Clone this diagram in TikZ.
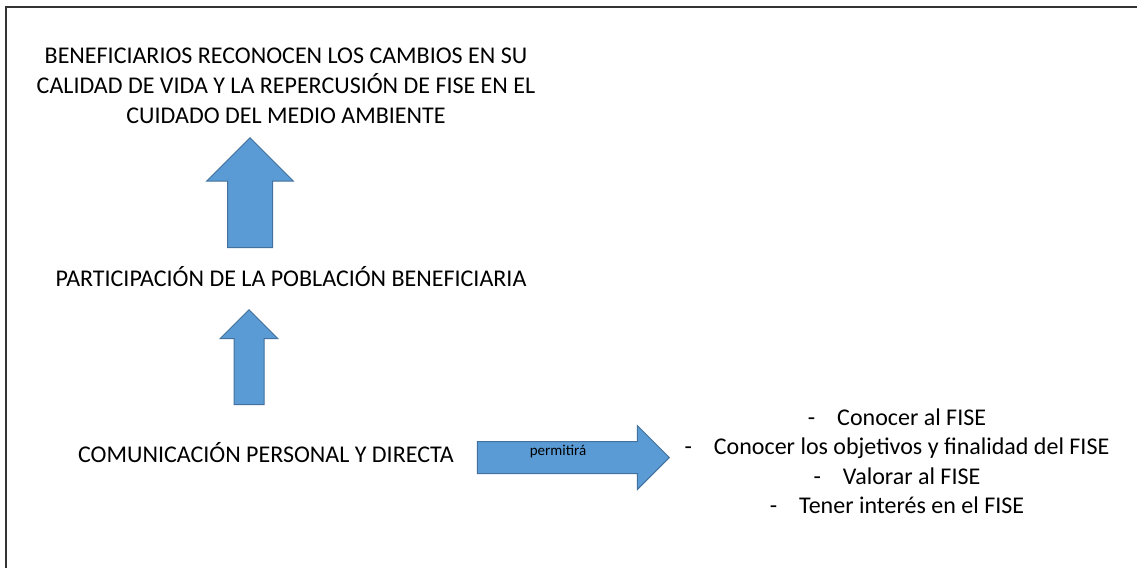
\documentclass[tikz,border=0pt]{standalone}
\usepackage{fontspec}
\setmainfont{Carlito}
\usepackage{tikz}
\usetikzlibrary{shapes.arrows}
\pgfdeclarelayer{edgelayer}
\pgfdeclarelayer{nodelayer}
\pgfsetlayers{edgelayer,nodelayer,main}
\definecolor{fiseblue}{RGB}{91,155,213}
\definecolor{fiseedge}{RGB}{65,113,156}
\tikzstyle{caption}=[align=center, inner sep=0pt, font=\fontsize{12}{15}\selectfont]
\tikzstyle{items}=[align=center, inner sep=0pt, font=\fontsize{12}{14.75}\selectfont]
\tikzstyle{blockarrow}=[single arrow, fill=fiseblue, draw=fiseedge, line width=0.5pt, inner xsep=0pt, anchor=tip]
\tikzstyle{smalllabel}=[inner sep=0pt, font=\fontsize{7.5}{9}\selectfont]
\tikzstyle{frame}=[draw=black!80, line width=0.75pt]
\newcommand{\dashitem}[1]{-\hspace{11pt}#1}

\begin{document}
\begin{tikzpicture}[x=0.5pt, y=-0.5pt]
            \useasboundingbox (0, 0) rectangle (1137, 568);
            \begin{pgfonlayer}{nodelayer}
                \node [style=caption] (benef) at (286, 86) {BENEFICIARIOS RECONOCEN LOS CAMBIOS EN SU\\CALIDAD DE VIDA Y LA REPERCUSIÓN DE FISE EN EL\\CUIDADO DEL MEDIO AMBIENTE};
                \node [style=caption] (partic) at (291, 277) {PARTICIPACIÓN DE LA POBLACIÓN BENEFICIARIA};
                \node [style=caption] (comun) at (266, 453) {COMUNICACIÓN PERSONAL Y DIRECTA};
                \node [style=items] (logros) at (897, 461.5) {\dashitem{Conocer al FISE}\\\dashitem{Conocer los objetivos y finalidad del FISE}\\\dashitem{Valorar al FISE}\\\dashitem{Tener interés en el FISE}};
                \node [style=smalllabel] (permite) at (558, 452) {permitirá};
            \end{pgfonlayer}
            \begin{pgfonlayer}{edgelayer}
                \draw [style=frame] (6, 568) -- (6, 7) -- (1137, 7);
                \node [style=blockarrow, rotate=90, minimum height=55pt, minimum width=43pt, inner ysep=11pt, single arrow head extend=10.5pt] (upbenef) at (250, 137) {};
                \node [style=blockarrow, rotate=90, minimum height=47.5pt, minimum width=28.5pt, inner ysep=7.25pt, single arrow head extend=7pt] (uppartic) at (249, 309) {};
                \node [style=blockarrow, minimum height=96pt, minimum width=31.5pt, inner ysep=7.75pt, single arrow head extend=8pt] (toright) at (670, 457.5) {};
            \end{pgfonlayer}
        \end{tikzpicture}
\end{document}
